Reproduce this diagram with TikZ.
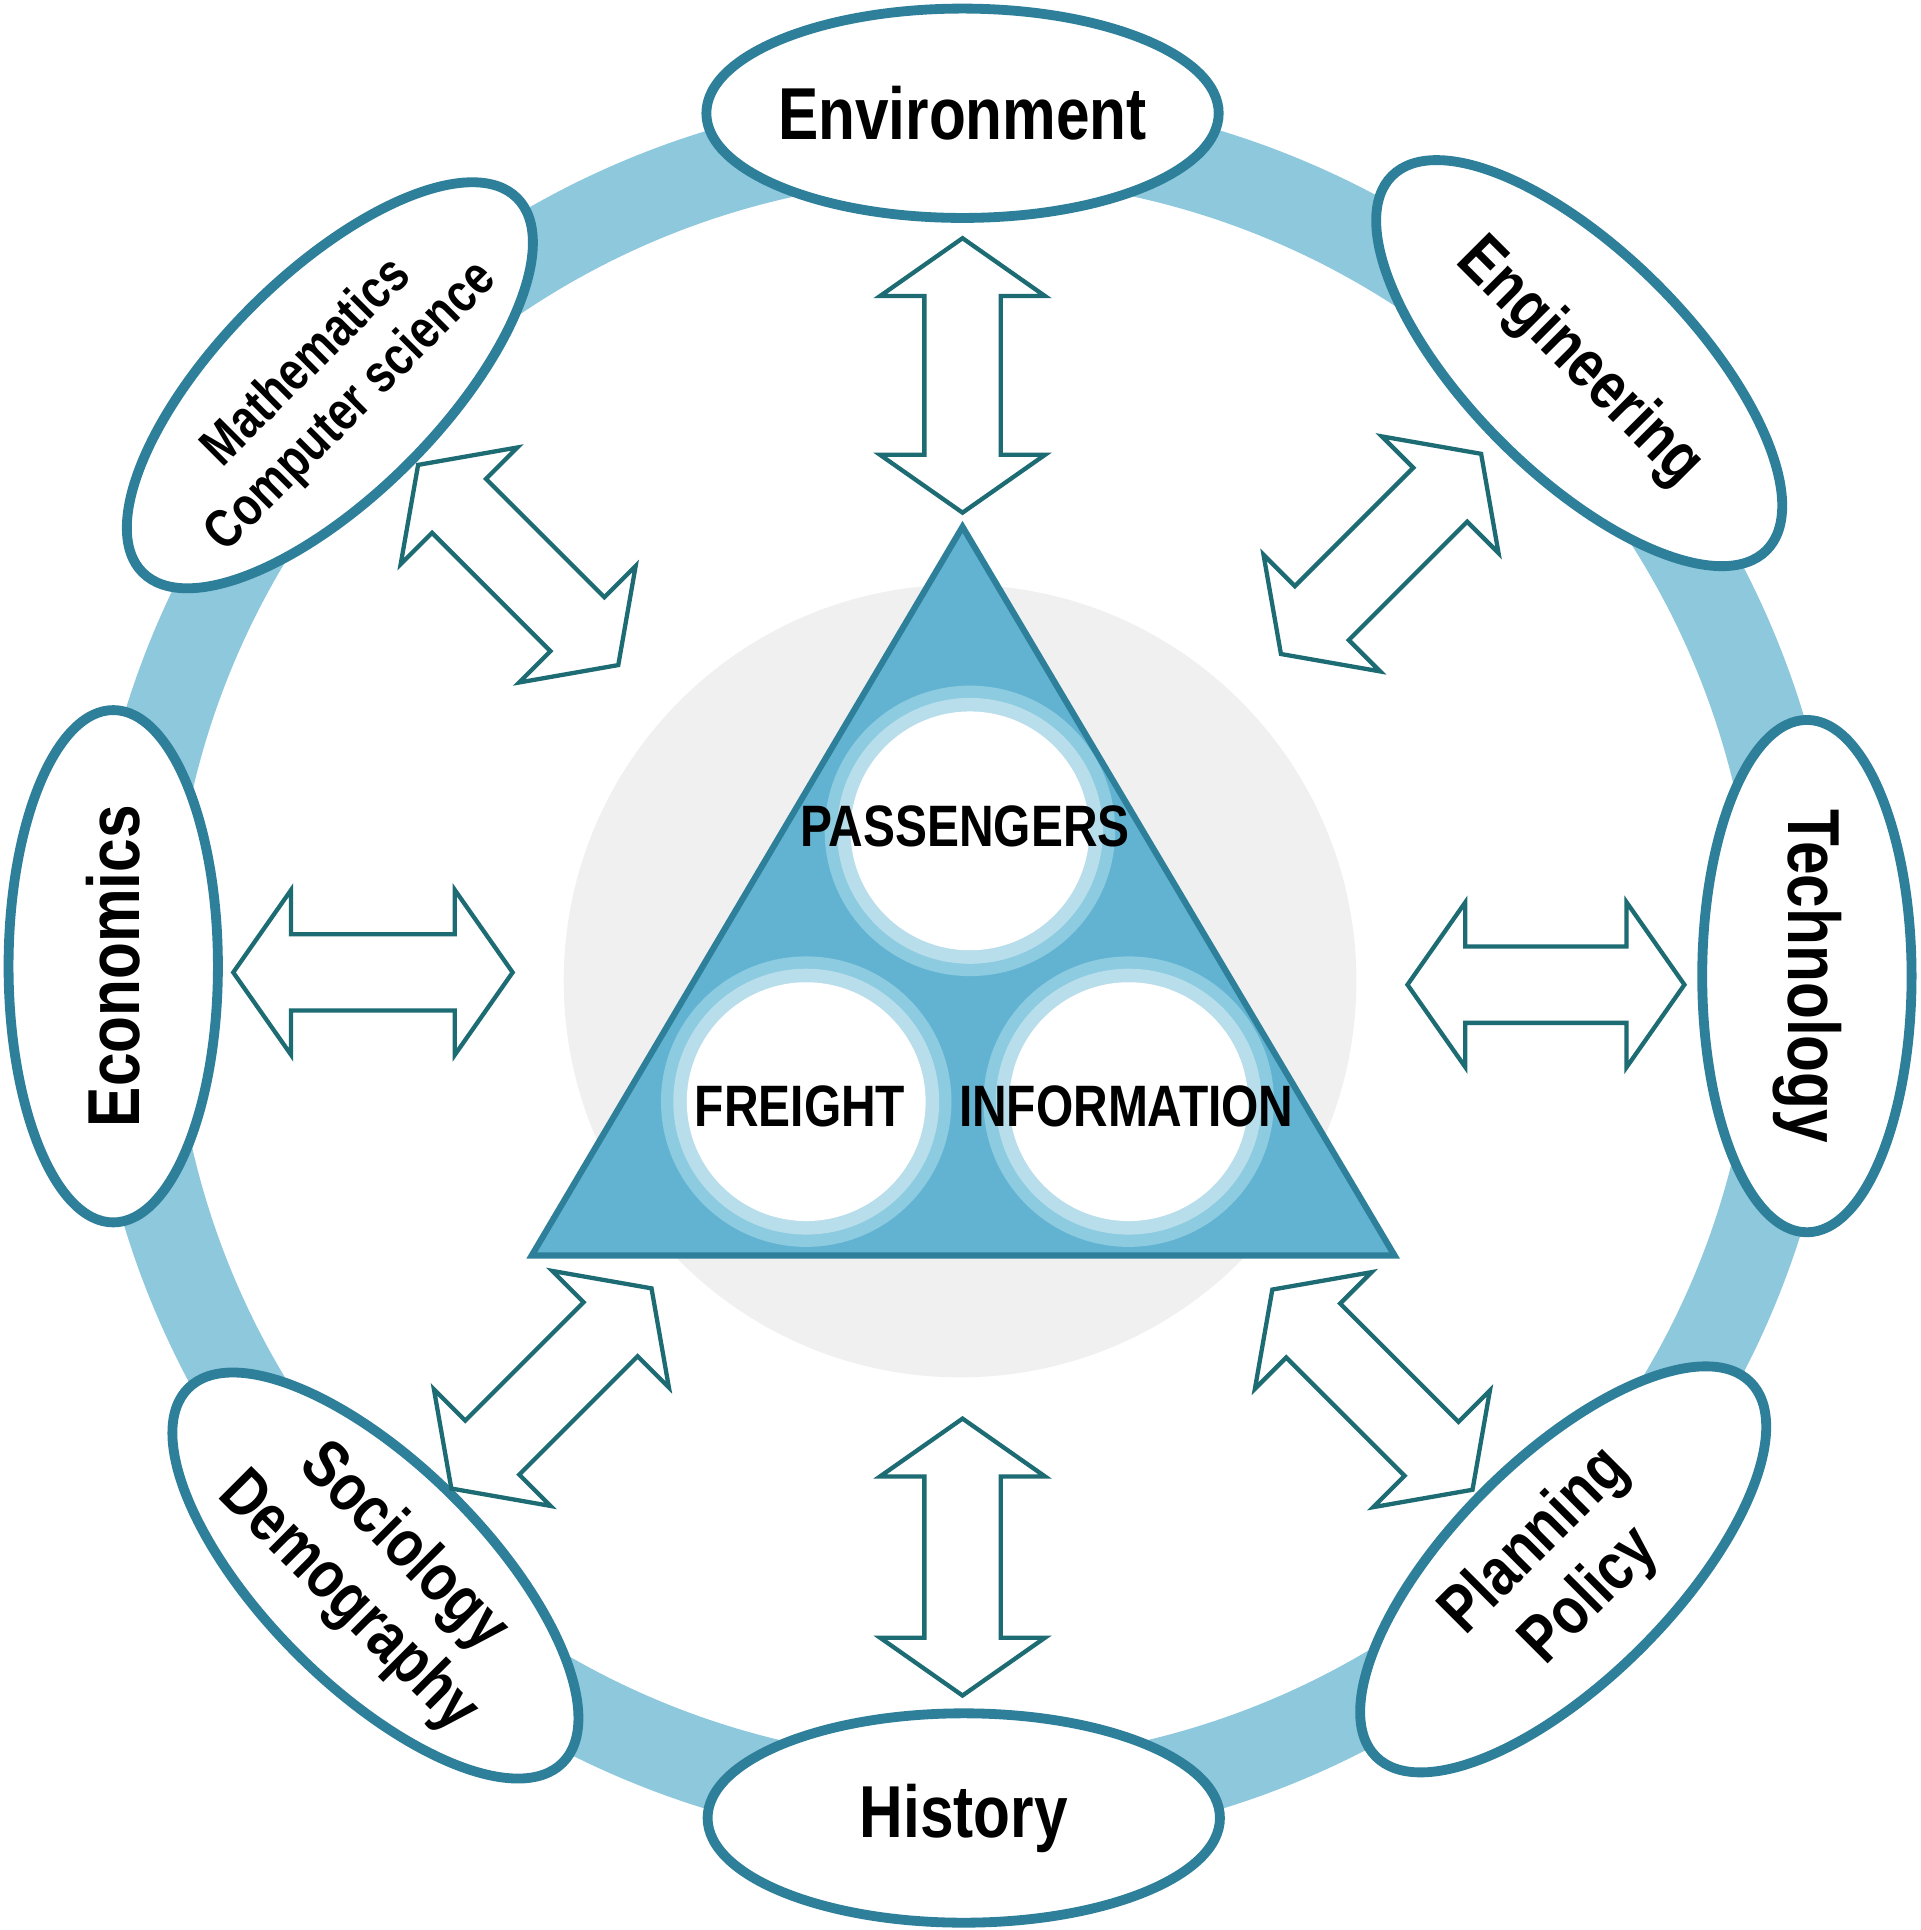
\documentclass[tikz,border=0pt]{standalone}
\usepackage{fontspec}
\setmainfont{Liberation Sans}
\newfontfamily\condf{Liberation Sans}[FakeStretch=0.82]
\usetikzlibrary{shapes.geometric}
\definecolor{ringc}{HTML}{8EC8DD}
\definecolor{ellc}{HTML}{2E7F99}
\definecolor{arrc}{HTML}{1D6B73}
\definecolor{trif}{HTML}{62B3D1}
\definecolor{grayc}{HTML}{F0F0F0}
\definecolor{haloa}{HTML}{8CCBE0}
\definecolor{halob}{HTML}{B8DEEB}
\newcommand{\dblarr}[4]{% x y rot L
\begin{scope}[shift={(#1,#2)},rotate=#3]
\filldraw[fill=white,draw=arrc,line width=3.5*0.2835pt,line join=miter]
(-#4/2,0) -- (-#4/2+47,-67) -- (-#4/2+47,-31) -- (#4/2-47,-31) -- (#4/2-47,-67) -- (#4/2,0) -- (#4/2-47,67) -- (#4/2-47,31) -- (-#4/2+47,31) -- (-#4/2+47,67) -- cycle;
\end{scope}}
\tikzset{
 ell/.style={ellipse,draw=ellc,fill=white,line width=8*0.2835pt,inner sep=0pt,
   minimum width=4.16cm,minimum height=1.7cm},
 dell/.style={ell,minimum width=4.3cm,minimum height=1.8cm},
 lab/.style={font=\condf\bfseries\fontsize{17}{19}\selectfont,align=center,inner sep=0pt},
 dlab/.style={font=\condf\bfseries\fontsize{15.5}{18}\selectfont,align=center,inner sep=0pt},
 mlab/.style={font=\condf\bfseries\fontsize{12.5}{14.5}\selectfont,align=center,inner sep=0pt},
 clab/.style={font=\condf\bfseries\fontsize{13.5}{15}\selectfont,inner sep=0pt},
}
\begin{document}
\begin{tikzpicture}[x=0.01cm,y=-0.01cm]
\useasboundingbox (0,0) rectangle (1560,1568);
\draw[ringc,line width=70*0.2835pt] (783,788) circle[radius=678];
\fill[grayc] (780,797) circle[radius=322];
% triangle
\coordinate (ta) at (782,428);
\coordinate (tb) at (432,1020);
\coordinate (tc) at (1133,1020);
\filldraw[fill=trif,draw=ellc,line width=5*0.2835pt] (ta) -- (tb) -- (tc) -- cycle;
\foreach \n/\cx/\cy in {p/788/675,f/655/895,i/917/895}{
  \fill[haloa] (\cx,\cy) circle[radius=118];
  \fill[halob] (\cx,\cy) circle[radius=108];
  \fill[white] (\cx,\cy) circle[radius=97];
  \coordinate (\n) at (\cx,\cy);
}
\node[clab] (pl) at (784,671) {PASSENGERS};
\node[clab] (fl) at (650,899) {FREIGHT};
\node[clab] (il) at (915,899) {INFORMATION};
% ellipses
\node[ell] (env) at (782,92) {};
\node[lab] at (env.center) {Environment};
\node[ell] (his) at (783,1477) {};
\node[lab] at (his.center) {History};
\node[ell,rotate=90] (eco) at (92,785) {};
\node[lab,rotate=90] at (eco.center) {Economics};
\node[ell,rotate=-90] (tec) at (1468,793) {};
\node[lab,rotate=-90] at (tec.center) {Technology};
\node[dell,rotate=45] (mat) at (268,313) {};
\node[mlab,rotate=45] at (mat.center) {Mathematics\\Computer science};
\node[dell,rotate=-45] (eng) at (1283,295) {};
\node[dlab,rotate=-45] at (eng.center) {Engineering};
\node[dell,rotate=-45] (soc) at (305,1280) {};
\node[dlab,rotate=-45] at (soc.center) {Sociology\\Demography};
\node[dell,rotate=45] (pla) at (1270,1275) {};
\node[dlab,rotate=45] at (pla.center) {Planning\\Policy};
% arrows
\dblarr{782}{305}{90}{223}
\dblarr{782}{1265}{90}{225}
\dblarr{303}{790}{0}{227}
\dblarr{1256}{800}{0}{225}
\dblarr{421}{459}{-45}{230}
\dblarr{1122}{450}{45}{230}
\dblarr{448}{1128}{45}{230}
\dblarr{1115}{1129}{-45}{230}
\end{tikzpicture}
\end{document}
